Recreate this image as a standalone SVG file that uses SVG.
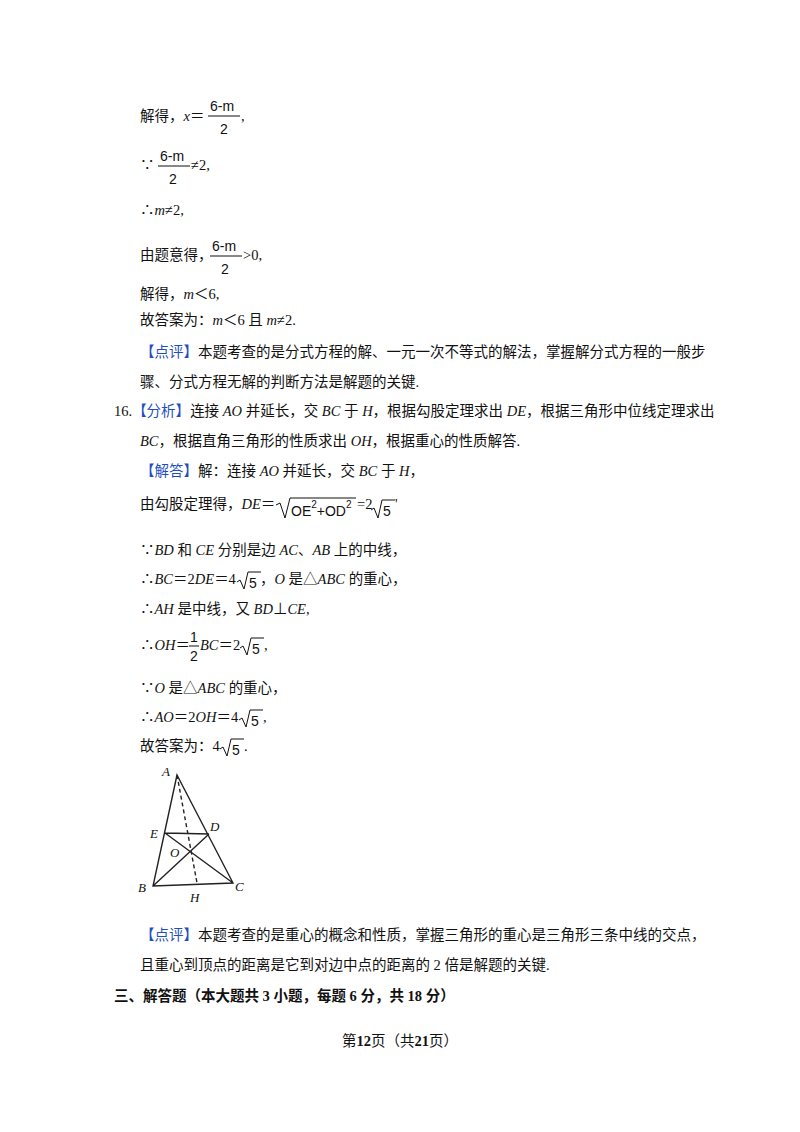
<svg xmlns="http://www.w3.org/2000/svg" width="800" height="1132" viewBox="0 0 800 1132">
<style>
text{font-family:"Liberation Serif","Noto Sans CJK SC",serif;font-size:14.5px;fill:#111}
.i{font-style:italic}
.b{fill:#1f4fbf}
.f{font-family:"Liberation Sans",sans-serif;font-size:14px}
.ln{stroke:#111;stroke-width:1;fill:none}
.fig{stroke:#222;stroke-width:1.4;fill:none}
.lb{font-style:italic;font-size:13px}
</style>
<rect width="800" height="1132" fill="#fff"/>
<g id="text">
<text x="140" y="121">解得，<tspan class="i">x</tspan>＝</text>
<text class="f" x="210" y="111">6-m</text><line class="ln" x1="208" y1="116" x2="240" y2="116"/><text class="f" x="220" y="134">2</text>
<text x="241" y="121">,</text>
<text x="140" y="170">∵</text>
<text class="f" x="160" y="161">6-m</text><line class="ln" x1="158" y1="166" x2="190" y2="166"/><text class="f" x="169" y="184">2</text>
<text x="191" y="170">≠2,</text>
<text x="140" y="215">∴<tspan class="i">m</tspan>≠2,</text>
<text x="140" y="260">由题意得，</text>
<text class="f" x="212" y="251">6-m</text><line class="ln" x1="210" y1="256" x2="242" y2="256"/><text class="f" x="221" y="274">2</text>
<text x="243" y="260">&gt;0,</text>
<text x="140" y="299">解得，<tspan class="i">m</tspan>＜6,</text>
<text x="140" y="325">故答案为：<tspan class="i">m</tspan>＜6 且 <tspan class="i">m</tspan>≠2.</text>
<text x="140" y="357"><tspan class="b">【点评】</tspan>本题考查的是分式方程的解、一元一次不等式的解法，掌握解分式方程的一般步</text>
<text x="140" y="387">骤、分式方程无解的判断方法是解题的关键.</text>
<text x="114" y="416">16.<tspan class="b">【分析】</tspan>连接 <tspan class="i">AO</tspan> 并延长，交 <tspan class="i">BC</tspan> 于 <tspan class="i">H</tspan>，根据勾股定理求出 <tspan class="i">DE</tspan>，根据三角形中位线定理求出</text>
<text x="140" y="446"><tspan class="i">BC</tspan>，根据直角三角形的性质求出 <tspan class="i">OH</tspan>，根据重心的性质解答.</text>
<text x="140" y="476"><tspan class="b">【解答】</tspan>解：连接 <tspan class="i">AO</tspan> 并延长，交 <tspan class="i">BC</tspan> 于 <tspan class="i">H</tspan>，</text>
<text x="140" y="509">由勾股定理得，<tspan class="i">DE</tspan>＝</text>
<path class="ln" d="M276 505 L280 503 L285 518 L290 498 L356 498"/>
<text class="f" x="291" y="516">OE<tspan font-size="10" dy="-8">2</tspan><tspan dy="8">+OD</tspan><tspan font-size="10" dy="-8">2</tspan></text>
<text x="357" y="509">=2</text>
<path class="ln" d="M371 510 L374 508 L378 518 L382 500 L395 500"/>
<text class="f" x="383" y="516">5</text>
<text x="395" y="509">'</text>
<text x="140" y="555">∵<tspan class="i">BD</tspan> 和 <tspan class="i">CE</tspan> 分别是边 <tspan class="i">AC</tspan>、<tspan class="i">AB</tspan> 上的中线，</text>
<text x="140" y="584">∴<tspan class="i">BC</tspan>＝2<tspan class="i">DE</tspan>＝4</text>
<path class="ln" d="M237 582 L240 580 L244 589 L248 572 L261 572"/>
<text class="f" x="249" y="588">5</text>
<text x="260" y="584">，<tspan class="i">O</tspan> 是△<tspan class="i">ABC</tspan> 的重心，</text>
<text x="140" y="614">∴<tspan class="i">AH</tspan> 是中线，又 <tspan class="i">BD</tspan>⊥<tspan class="i">CE</tspan>,</text>
<text x="140" y="650">∴<tspan class="i">OH</tspan>＝</text>
<text class="f" x="190" y="642">1</text><line class="ln" x1="189" y1="646" x2="199" y2="646"/><text class="f" x="190" y="661">2</text>
<text x="200" y="650"><tspan class="i">BC</tspan>＝2</text>
<path class="ln" d="M240 648 L243 646 L247 655 L251 638 L264 638"/>
<text class="f" x="252" y="654">5</text>
<text x="264" y="650">,</text>
<text x="140" y="693">∵<tspan class="i">O</tspan> 是△<tspan class="i">ABC</tspan> 的重心，</text>
<text x="140" y="722">∴<tspan class="i">AO</tspan>＝2<tspan class="i">OH</tspan>＝4</text>
<path class="ln" d="M239 720 L242 718 L246 727 L250 710 L263 710"/>
<text class="f" x="251" y="726">5</text>
<text x="263" y="722">,</text>
<text x="140" y="751">故答案为：4</text>
<path class="ln" d="M220 749 L223 747 L227 756 L231 739 L244 739"/>
<text class="f" x="232" y="755">5</text>
<text x="244" y="751">.</text>
<text x="140" y="940"><tspan class="b">【点评】</tspan>本题考查的是重心的概念和性质，掌握三角形的重心是三角形三条中线的交点，</text>
<text x="140" y="970">且重心到顶点的距离是它到对边中点的距离的 2 倍是解题的关键.</text>
<text x="114" y="1001" font-weight="bold">三、解答题（本大题共 3 小题，每题 6 分，共 18 分）</text>
<text x="400" y="1046" text-anchor="middle" font-size="13">第<tspan font-weight="bold">12</tspan>页（共<tspan font-weight="bold">21</tspan>页）</text>
</g>
<g id="figure">
<path class="fig" d="M177 775 L153 886 L233 883 Z M165 833 L209 834 M165 833 L233 883 M153 886 L209 834"/>
<line class="fig" x1="177" y1="775" x2="197" y2="883" stroke-dasharray="4 3"/>
<text class="lb" x="162" y="776">A</text>
<text class="lb" x="150" y="838">E</text>
<text class="lb" x="210" y="831">D</text>
<text class="lb" x="170" y="857">O</text>
<text class="lb" x="138" y="892">B</text>
<text class="lb" x="190" y="902">H</text>
<text class="lb" x="235" y="891">C</text>
</g>
</svg>
